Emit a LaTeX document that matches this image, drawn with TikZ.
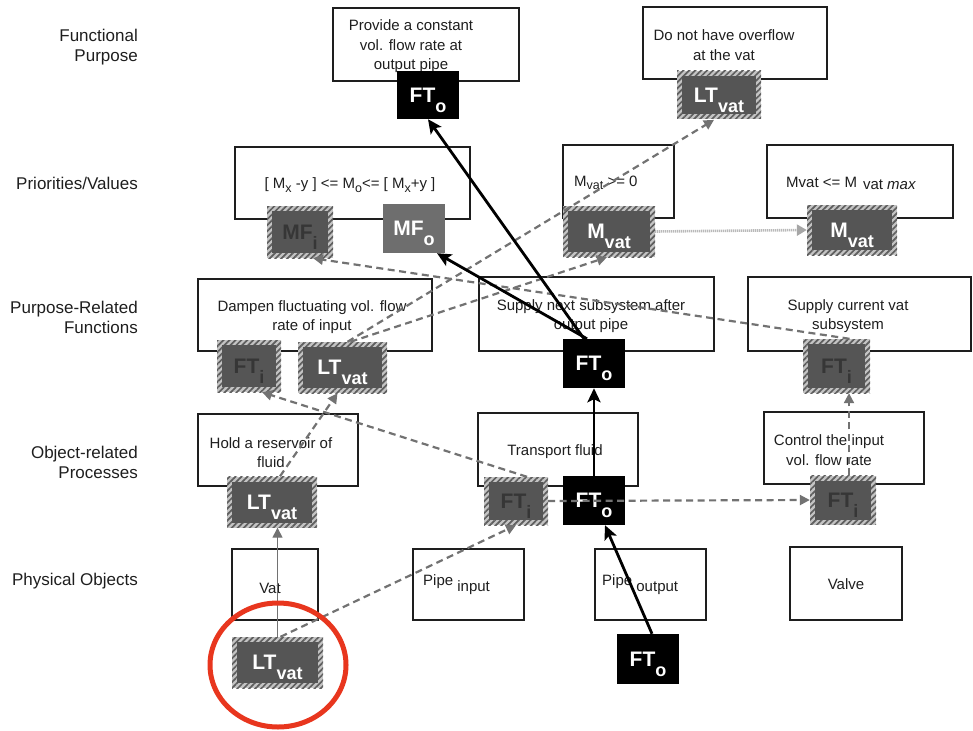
\documentclass[tikz,border=0pt]{standalone}
\usepackage{fontspec}
\setmainfont{Liberation Sans}
\usetikzlibrary{arrows.meta,patterns.meta,shapes.geometric}

\definecolor{tagdark}{HTML}{555555}
\definecolor{hatchbg}{HTML}{C4C4C4}
\definecolor{hatchfg}{HTML}{5E5E5E}
\definecolor{mfgray}{HTML}{6E6E6E}
\definecolor{linkgray}{HTML}{727272}
\definecolor{ringred}{HTML}{E8361E}
\definecolor{inkdark}{HTML}{1E1E1E}
\definecolor{tagtext}{HTML}{363636}

% tag label: bold name with a lowered bold index
\newcommand\tagtxt[2]{{\fontsize{21}{21}\selectfont\bfseries #1\smash{\raisebox{-10pt}{\fontsize{18}{18}\selectfont #2}}}}
% lowered index inside box texts
\newcommand\lowsub[1]{\raisebox{-3.5pt}{\fontsize{12.5}{12.5}\selectfont #1}}

\tikzset{
  fbox/.style={draw=inkdark, line width=1.3pt, inner sep=0pt},
  btext/.style={text=inkdark, font=\fontsize{15}{19.5}\selectfont, align=center, inner sep=0pt},
  lvl/.style={anchor=east, align=right, font=\fontsize{17}{20}\selectfont, text=inkdark, inner sep=0pt},
  blacktag/.style={fill=black, text=white, inner sep=0pt},
  mftag/.style={fill=mfgray, text=white, inner sep=0pt},
  hatchtag/.style={inner sep=0pt, preaction={fill=hatchbg},
    pattern={Lines[angle=45,distance=4.2pt,line width=1.7pt]}, pattern color=hatchfg,
    path picture={\fill[tagdark] ([shift={(5pt,5pt)}]path picture bounding box.south west)
      rectangle ([shift={(-5pt,-5pt)}]path picture bounding box.north east);}},
  darklabel/.style={text=tagtext},
  lightlabel/.style={text=white},
  flow/.style={draw=black, line width=2.8pt, -{Stealth[length=14pt,width=13pt,inset=3pt]}},
  trace/.style={draw=linkgray, line width=2.2pt, dash pattern=on 7pt off 4.5pt,
    -{Triangle[length=10pt,width=10pt]}},
  fineline/.style={draw=linkgray, line width=1.4pt, -{Triangle[length=10pt,width=10pt]}},
  dotline/.style={draw=gray!55, line width=2.6pt, dash pattern=on 1.2pt off 0.8pt,
    -{Triangle[length=10pt,width=11pt,color=gray!70]}},
}

\begin{document}
\begin{tikzpicture}[x=1pt,y=-1pt]
\useasboundingbox (0,0) rectangle (973,730);

% abstraction levels
\node[lvl] (l1) at (138,47) {Functional\\Purpose};
\node[lvl] (l2) at (138,183) {Priorities/Values};
\node[lvl] (l3) at (138,317) {Purpose-Related\\Functions};
\node[lvl] (l4) at (138,462) {Object-related\\Processes};
\node[lvl] (l5) at (138,581) {Physical Objects};

% element boxes
\node[fbox, minimum width=186pt, minimum height=73pt] (b1) at (426,44.5) {};
\node[fbox, minimum width=184pt, minimum height=72pt] (b2) at (735,43) {};
\node[fbox, minimum width=235pt, minimum height=72pt] (b3) at (352.5,183) {};
\node[fbox, minimum width=111pt, minimum height=73pt] (b4) at (618.5,181.5) {};
\node[fbox, minimum width=186pt, minimum height=73pt] (b5) at (860,181.5) {};
\node[fbox, minimum width=234pt, minimum height=72pt] (b6) at (315,315) {};
\node[fbox, minimum width=235pt, minimum height=74pt] (b7) at (596.5,314) {};
\node[fbox, minimum width=223pt, minimum height=74pt] (b8) at (859.5,314) {};
\node[fbox, minimum width=160pt, minimum height=72pt] (b9) at (278,450) {};
\node[fbox, minimum width=160pt, minimum height=73pt] (b10) at (558,449.5) {};
\node[fbox, minimum width=160pt, minimum height=72pt] (b11) at (844,448) {};
\node[fbox, minimum width=86pt, minimum height=71pt] (b12) at (275,584.5) {};
\node[fbox, minimum width=111pt, minimum height=71pt] (b13) at (468.5,584.5) {};
\node[fbox, minimum width=111pt, minimum height=71pt] (b14) at (650.5,584.5) {};
\node[fbox, minimum width=112pt, minimum height=73pt] (b15) at (846,583.5) {};

% box texts
\node[btext] (t1) at (411,46.5) {Provide a constant\\vol. flow rate at\\output pipe};
\node[btext] (t2) at (724,45) {Do not have overflow\\at the vat};
\node[btext] (t3) at (350,185) {[ M\lowsub{x} -y ] <= M\lowsub{o}<= [ M\lowsub{x}+y ]};
\node[btext, anchor=west] (t4) at (574,183) {M\lowsub{vat} >= 0};
\node[btext, anchor=west] (t5) at (786,183) {Mvat <= M\hspace{6pt}\raisebox{-2pt}{vat \textit{max}}};
\node[btext] (t6) at (312,317) {Dampen fluctuating vol. flow\\rate of input};
\node[btext] (t7) at (591,316) {Supply next subsystem after\\output pipe};
\node[btext] (t8) at (848,316) {Supply current vat\\subsystem};
\node[btext] (t9) at (271,452.5) {Hold a reservoir of\\fluid};
\node[btext] (t10) at (555,452) {Transport fluid};
\node[btext] (t11) at (829,450) {Control the input\\vol. flow rate};
\node[btext] (t12) at (270,588) {Vat};
\node[btext, anchor=west] (t13) at (423,585) {Pipe \raisebox{-6pt}{input}};
\node[btext, anchor=west] (t14) at (602,585) {Pipe \raisebox{-6pt}{output}};
\node[btext] (t15) at (846,584) {Valve};

% variable tags
\node[blacktag, minimum width=62pt, minimum height=48pt] (ftoF) at (428,95) {\tagtxt{FT}{o}};
\node[hatchtag, lightlabel, minimum width=84pt, minimum height=48pt] (ltF) at (719,95) {\tagtxt{LT}{vat}};

\node[hatchtag, darklabel, minimum width=66pt, minimum height=52pt] (mfi) at (300,232) {\tagtxt{MF}{i}};
\node[mftag, minimum width=62pt, minimum height=49pt] (mfo) at (414,228.5) {\tagtxt{MF}{o}};
\node[hatchtag, lightlabel, minimum width=92pt, minimum height=51pt] (mvM) at (609,231.5) {\tagtxt{M}{vat}};
\node[hatchtag, lightlabel, minimum width=90pt, minimum height=50pt] (mvR) at (852,230) {\tagtxt{M}{vat}};

\node[hatchtag, darklabel, minimum width=64pt, minimum height=52pt] (ftiPL) at (249,366) {\tagtxt{FT}{i}};
\node[hatchtag, lightlabel, minimum width=89pt, minimum height=51pt] (ltP) at (342.5,367.5) {\tagtxt{LT}{vat}};
\node[blacktag, minimum width=62pt, minimum height=49pt] (ftoP) at (594,363.5) {\tagtxt{FT}{o}};
\node[hatchtag, darklabel, minimum width=67pt, minimum height=54pt] (ftiPR) at (836.5,366) {\tagtxt{FT}{i}};

\node[hatchtag, lightlabel, minimum width=90pt, minimum height=51pt] (ltO) at (272,502) {\tagtxt{LT}{vat}};
\node[hatchtag, darklabel, minimum width=64pt, minimum height=48pt] (ftiO) at (516,501) {\tagtxt{FT}{i}};
\node[blacktag, minimum width=62pt, minimum height=49pt] (ftoO) at (594,500.5) {\tagtxt{FT}{o}};
\node[hatchtag, darklabel, minimum width=66pt, minimum height=49pt] (ftiOR) at (843,500) {\tagtxt{FT}{i}};

\node[hatchtag, lightlabel, minimum width=91pt, minimum height=51pt] (ltPh) at (277.5,662.5) {\tagtxt{LT}{vat}};
\node[blacktag, minimum width=62pt, minimum height=50pt] (ftoPh) at (648,659) {\tagtxt{FT}{o}};

% traces of the vat level
\draw[fineline] (ltPh.north) -- (ltPh.north |- ltO.south);
\draw[trace] ([xshift=3pt]ltPh.north) -- (ftiO.south);
\draw[trace] ([xshift=8pt]ltO.north) -- ([xshift=-5pt]ltP.south);
\draw[trace] ([xshift=5pt]ltP.north) -- ([xshift=-5pt]ltF.south);
\draw[trace] ([xshift=8pt]ltP.north) -- ([xshift=-2pt]mvM.south);
\draw[dotline] (mvM.east) -- (mvR.west);

% traces of the input flow
\draw[trace] ([xshift=11pt]ftiO.north) -- ([xshift=13pt]ftiPL.south);
\draw[trace] ([xshift=13pt]ftiPR.north) -- ([xshift=13pt]mfi.south);
\draw[trace] (ftiO.east) -- (ftiOR.west);
\draw[trace] ([xshift=6pt]ftiOR.north) -- ([xshift=6pt]ftiOR.north |- ftiPR.south);

% traces of the output flow
\draw[flow] ([xshift=4pt]ftoPh.north) -- ([xshift=11pt]ftoO.south);
\draw[flow] (ftoO.north) -- (ftoP.south);
\draw[flow] ([xshift=-10pt]ftoP.north) -- (ftoF.south);
\draw[flow] ([xshift=-7pt]ftoP.north) -- ([xshift=23pt]mfo.south);

% highlight ring
\node[ellipse, draw=ringred, line width=5pt, minimum width=136pt, minimum height=124pt] (ring) at (278,665) {};
\end{tikzpicture}
\end{document}
